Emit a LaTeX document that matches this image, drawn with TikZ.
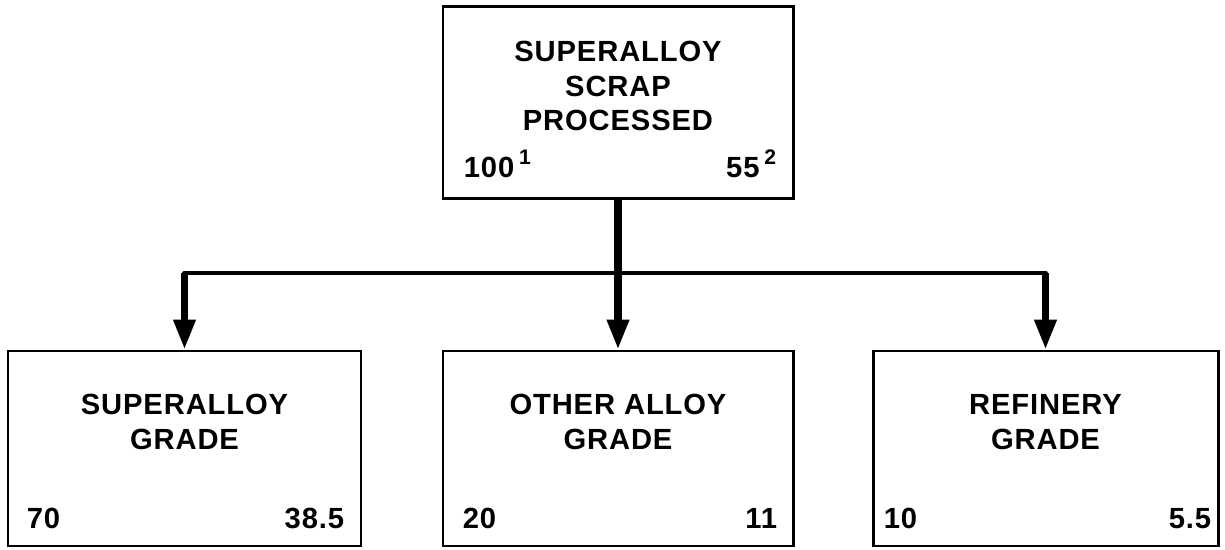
\documentclass[tikz,border=0pt]{standalone}
\usepackage{fontspec}
\newfontfamily\chartfont{Liberation Sans}[LetterSpace=3]
\usepackage{tikz}
\usetikzlibrary{arrows.meta, positioning}

\begin{document}
\begin{tikzpicture}[
        % Boxes: plain white rectangles with a heavy black frame
        grade/.style = {rectangle, draw=black, line width=1.7pt, fill=white,
                        minimum width=7cm, minimum height=3.9cm, inner sep=0pt},
        % Box titles: bold capitals, centred
        title/.style = {align=center, inner sep=0pt,
                        font=\chartfont\bfseries\fontsize{16.6}{19.6}\selectfont},
        % Figures in the box corners
        num/.style = {inner sep=0pt, font=\chartfont\bfseries\fontsize{16.6}{19.6}\selectfont},
        % Trunk and bus lines
        trunk/.style = {draw, line width=4pt},
        bus/.style = {draw, line width=2.8pt, line cap=round},
        % Drops into the grade boxes
        drop/.style = {draw, line width=4pt, -{Triangle[length=6mm, width=4.2mm]}}
    ]
    \useasboundingbox (0,0) rectangle (24.5,11);

    % --- Row 1: Scrap processed ---
    \node[grade, minimum height=3.84cm] (scrap) at (12.36,8.94) {};
    \node[title] (scrapT) at (12.36,9.28) {SUPERALLOY\\SCRAP\\PROCESSED};
    \node[num, anchor=base west] (scrapL) at ([xshift=0.44cm, yshift=0.46cm]scrap.south west)
        {100\,\raisebox{0.45em}{\fontsize{12}{12}\selectfont 1}};
    \node[num, anchor=base east] (scrapR) at ([xshift=-0.36cm, yshift=0.46cm]scrap.south east)
        {55\,\raisebox{0.45em}{\fontsize{12}{12}\selectfont 2}};

    % --- Row 2: Grades ---
    \node[grade, minimum width=7.06cm] (super) at (3.69,2.03) {};
    \node[grade] (other) at (12.36,2.03) {};
    \node[grade, minimum width=6.9cm] (refinery) at (20.91,2.03) {};

    \node[title] (superT) at ([yshift=0.53cm]super.center) {SUPERALLOY\\GRADE};
    \node[title] (otherT) at ([yshift=0.53cm]other.center) {OTHER ALLOY\\GRADE};
    \node[title] (refineryT) at ([yshift=0.53cm]refinery.center) {REFINERY\\GRADE};

    \node[num, anchor=base west] (superL) at ([xshift=0.4cm, yshift=0.38cm]super.south west) {70};
    \node[num, anchor=base east] (superR) at ([xshift=-0.36cm, yshift=0.38cm]super.south east) {38.5};
    \node[num, anchor=base west] (otherL) at ([xshift=0.42cm, yshift=0.38cm]other.south west) {20};
    \node[num, anchor=base east] (otherR) at ([xshift=-0.34cm, yshift=0.38cm]other.south east) {11};
    \node[num, anchor=base west] (refineryL) at ([xshift=0.24cm, yshift=0.38cm]refinery.south west) {10};
    \node[num, anchor=base east] (refineryR) at ([xshift=-0.16cm, yshift=0.38cm]refinery.south east) {5.5};

    % --- Connectors ---
    \coordinate (split) at (scrap.south |- 0,5.54);
    \coordinate (busL) at (super.north |- split);
    \coordinate (busR) at (refinery.north |- split);

    \draw[trunk] (scrap.south) -- (split);
    \draw[bus] (busL) -- (busR);
    \draw[drop] (busL) -- (super.north);
    \draw[drop] (split) -- (other.north);
    \draw[drop] (busR) -- (refinery.north);

\end{tikzpicture}
\end{document}
